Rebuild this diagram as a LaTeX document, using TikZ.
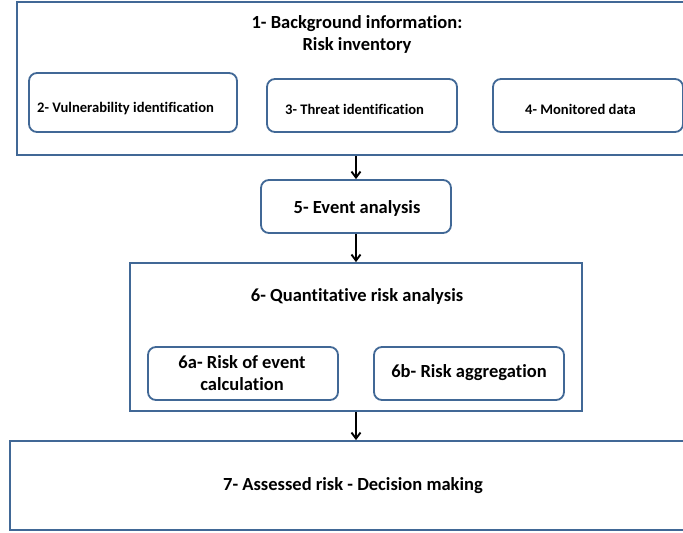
\documentclass[tikz,border=0pt]{standalone}
\usepackage{fontspec}
\setmainfont{Carlito}[Ligatures=NoCommon]
\usetikzlibrary{arrows.meta}
\definecolor{boxblue}{RGB}{65,104,150}
\begin{document}
\begin{tikzpicture}[x=1pt,y=-1pt,
  outerbox/.style={draw=boxblue,line width=1.8pt,rectangle,inner sep=0pt},
  roundbox/.style={draw=boxblue,line width=1.8pt,rectangle,rounded corners=8pt,inner sep=0pt},
  bigtxt/.style={font=\fontsize{18.5}{22}\selectfont\bfseries,align=center,inner sep=0pt},
  smalltxt/.style={font=\fontsize{14.6}{16}\selectfont\bfseries,inner sep=0pt},
  flow/.style={-{Straight Barb[length=6pt,width=9pt]},line width=1.9pt,black}]
\useasboundingbox (0,0) rectangle (683,533);
\fill[white] (0,0) rectangle (683,533);
% boxes
\node[outerbox,minimum width=674pt,minimum height=153pt] (b1) at (354,78.5) {};
\node[roundbox,minimum width=208pt,minimum height=59pt] (b2) at (133,102.5) {};
\node[roundbox,minimum width=190pt,minimum height=53pt] (b3) at (362,105.5) {};
\node[roundbox,minimum width=190pt,minimum height=53pt] (b4) at (588,105.5) {};
\node[roundbox,minimum width=190pt,minimum height=53pt] (b5) at (356,206.5) {};
\node[outerbox,minimum width=452pt,minimum height=148pt] (b6) at (356,337) {};
\node[roundbox,minimum width=190pt,minimum height=53pt] (b6a) at (243,373.5) {};
\node[roundbox,minimum width=190pt,minimum height=53pt] (b6b) at (469,373.5) {};
\node[outerbox,minimum width=682pt,minimum height=89pt] (b7) at (351,485.5) {};
% texts
\node[bigtxt] (t1) at (357,34) {1- Background information:\\Risk inventory};
\node[smalltxt,anchor=west] (t2) at (37,109) {2- Vulnerability identification};
\node[smalltxt,anchor=west] (t3) at (285,109) {3- Threat identification};
\node[smalltxt,anchor=west] (t4) at (525,109) {4- Monitored data};
\node[bigtxt] (t5) at (357,208) {5- Event analysis};
\node[bigtxt] (t6) at (357,296) {6- Quantitative risk analysis};
\node[bigtxt] (t6a) at (242,373) {6a- Risk of event\\calculation};
\node[bigtxt] (t6b) at (469,373) {6b- Risk aggregation};
\node[bigtxt] (t7) at (353,486) {7- Assessed risk - Decision making};
% arrows
\draw[flow] (b1.south -| b5.north) -- (b5.north);
\draw[flow] (b5.south) -- (b5.south |- b6.north);
\draw[flow] (b6.south) -- (b6.south |- b7.north);
\end{tikzpicture}
\end{document}
